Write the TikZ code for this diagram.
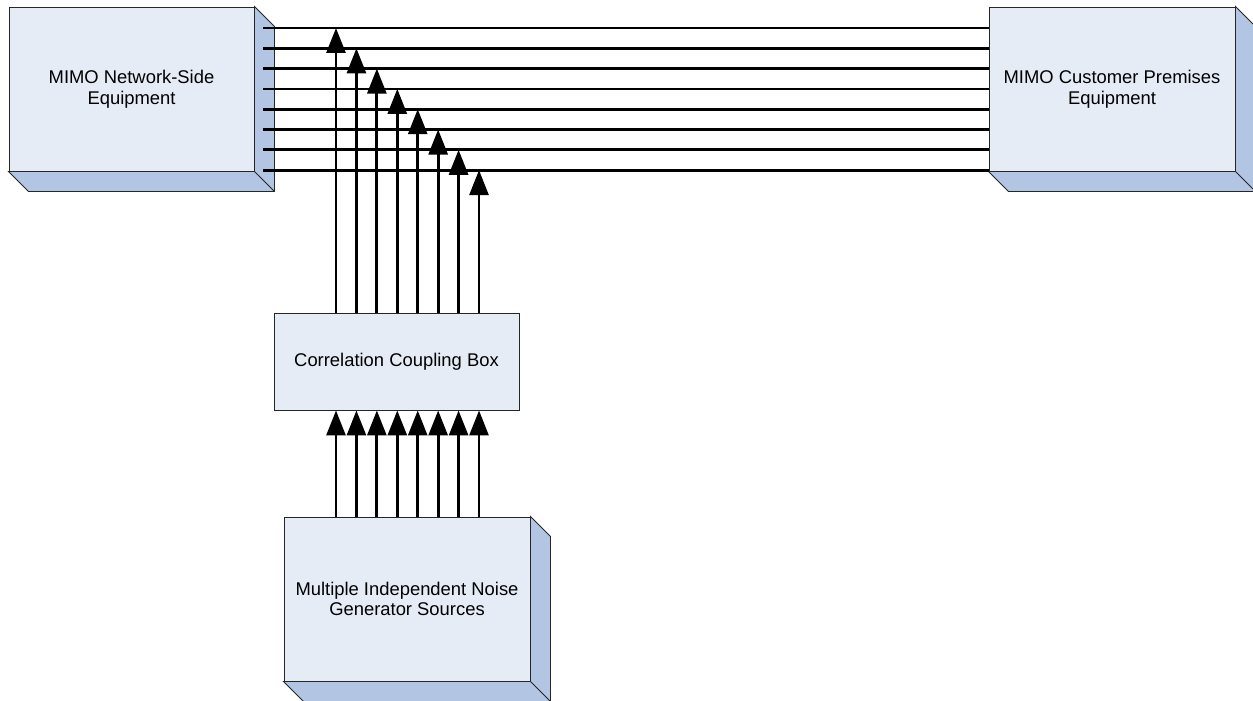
\documentclass[tikz,border=0pt]{standalone}
\usepackage{fontspec}
\setmainfont{Liberation Sans}
\usetikzlibrary{arrows.meta,calc}
\definecolor{faceblue}{RGB}{230,236,246}
\definecolor{sideblue}{RGB}{178,198,228}
\tikzset{
  box/.style={draw=black!85, line width=0.9pt, fill=faceblue, inner sep=0pt, align=center,
              font=\fontsize{18.4}{20.5}\selectfont},
  sideface/.style={draw=black!85, line width=0.9pt, fill=sideblue, line join=miter},
  wire/.style={line width=2.8pt, black},
  arr/.style={line width=2.8pt, black, -{Triangle[length=25pt,width=19pt]}}
}
\newcommand\extrudebox[1]{%
  \filldraw[sideface] (#1.north east) -- ++(20,20) -- ($(#1.south east)+(20,20)$)
     -- ($(#1.south west)+(20,20)$) -- (#1.south west) -- (#1.south east) -- cycle;
  \draw[sideface] (#1.south east) -- ++(20,20);
}
\begin{document}
\begin{tikzpicture}[x=1pt,y=-1pt]
\useasboundingbox (0,0) rectangle (1253,701);

% boxes
\node[box, minimum width=245pt, minimum height=164pt] (nse) at (131.5,89) {MIMO Network-Side\\Equipment};
\node[box, minimum width=246pt, minimum height=164pt] (cpe) at (1112,89) {MIMO Customer Premises\\Equipment};
\node[box, minimum width=245pt, minimum height=97pt] (ccb) at (396.5,361.5) {Correlation Coupling Box};
\node[box, minimum width=246pt, minimum height=164pt] (src) at (407,599) {Multiple Independent Noise\\Generator Sources};
\extrudebox{nse}
\extrudebox{cpe}
\extrudebox{src}

% horizontal wires
\foreach \i in {0,...,7}{
  \coordinate (hs\i) at (263,{28+20.3*\i});
  \draw[wire] (hs\i) -- (hs\i -| cpe.west);
}

% vertical arrows
\foreach \i in {0,...,7}{
  \coordinate (v\i) at ({336+20.43*\i},0);
  \draw[arr] (ccb.north -| v\i) -- (hs\i -| v\i);
  \draw[arr] (src.north -| v\i) -- (ccb.south -| v\i);
}
\end{tikzpicture}
\end{document}
